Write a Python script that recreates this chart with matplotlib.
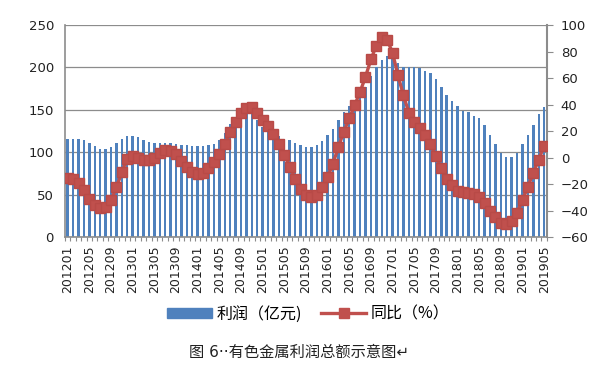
import matplotlib
matplotlib.use('Agg')
import matplotlib.pyplot as plt
import numpy as np
from matplotlib.patches import Patch
from matplotlib.lines import Line2D

# months 201201 .. 201905
months = []
for y in range(2012, 2020):
    for m in range(1, 13):
        if y == 2019 and m > 5:
            break
        months.append('%d%02d' % (y, m))

# profit, 100 million yuan (left axis)
profit = [116, 116, 116, 114, 111, 107, 104, 104, 106, 111, 116,
          119, 119, 118, 115, 112, 111, 111, 111, 111, 110,
          109, 108, 107, 107, 107, 108, 110, 115, 123, 133,
          138, 142, 147, 146, 138, 130, 126, 122, 119, 116,
          114, 111, 108, 106, 106, 109, 113, 120, 128, 138,
          148, 155, 161, 168, 177, 190, 200, 209, 213, 211,
          205, 200, 200, 200, 199, 196, 193, 186, 177, 167,
          160, 154, 149, 147, 143, 140, 132, 120, 110, 99,
          94, 94, 99, 110, 120, 132, 145, 153]

# year-on-year change, % (right axis)
yoy = [-15.5, -16.5, -19.5, -24.5, -31, -36, -38, -37.5, -32, -22.5,
       -11, -1, 1.5, 0, -2, -2, 0, 3.5, 5.8, 5,
       2.5, -2.5, -7, -11, -12.4, -11.5, -8, -3, 2.8, 10,
       19, 27, 34, 37.5, 38, 33.5, 28, 23.5, 18, 10,
       2.3, -6.8, -16, -24, -28, -29.5, -28, -22.5, -15, -4.5,
       8, 19.5, 29.5, 39.5, 49.5, 61, 74, 84.5, 91, 89,
       79, 62, 47, 34, 27, 22, 17, 10, 1, -8,
       -16, -21, -25, -26, -26.7, -27.5, -29.5, -34, -40, -45,
       -49.5, -50, -48, -41.5, -32, -22, -11.5, -1.5, 9]

label_every = 4
bar_color = '#4F81BD'
line_color = '#C0504D'
grid_color = '#8C8C8C'
cjk = ['Noto Sans CJK SC', 'DejaVu Sans']

fig = plt.figure(figsize=(5.99, 3.71), dpi=100)
ax = fig.add_axes([0.1085, 0.361, 0.8045, 0.5715])
x = np.arange(len(months))

ax.bar(x, profit, width=0.45, color=bar_color, zorder=2)
ax.set_xlim(-0.5, len(months) - 0.5)
ax.set_ylim(0, 250)
ax.set_yticks(np.arange(0, 251, 50))
ax.grid(axis='y', color=grid_color, linewidth=0.9, zorder=0)
ax.set_axisbelow(True)
ax.tick_params(axis='y', length=0, labelsize=9.5, pad=8, labelcolor='#222222')

ax.set_xticks(x[::label_every])
ax.set_xticklabels(months[::label_every], rotation=90, fontsize=9, color='#222222')
ax.set_xticks(np.arange(-0.5, len(months), 1), minor=True)
ax.tick_params(axis='x', which='major', length=0, pad=6)
ax.tick_params(axis='x', which='minor', length=3, color=grid_color, width=0.8)

for s in ['top', 'right']:
    ax.spines[s].set_visible(False)
ax.spines['left'].set_color(grid_color)
ax.spines['bottom'].set_color(grid_color)
ax.spines['left'].set_linewidth(1.2)
ax.spines['bottom'].set_linewidth(1.2)

ax2 = ax.twinx()
ax2.plot(x, yoy, color=line_color, linewidth=2.4, marker='s', markersize=7.8,
         markerfacecolor=line_color, markeredgecolor='#B84A47', zorder=3)
ax2.set_ylim(-60, 100)
ax2.set_yticks(np.arange(-60, 101, 20))
ax2.tick_params(axis='y', length=4, color=grid_color, labelsize=9.5, pad=6, labelcolor='#222222')
for s in ['top', 'left', 'bottom']:
    ax2.spines[s].set_visible(False)
ax2.spines['right'].set_color(grid_color)
ax2.spines['right'].set_linewidth(1.5)

handles = [Patch(facecolor=bar_color, edgecolor=bar_color),
           Line2D([0], [0], color=line_color, linewidth=2.4, marker='s', markersize=7.8)]
fig.legend(handles, ['利润（亿元)', '同比（%）'], loc='center', bbox_to_anchor=(0.515, 0.153),
           ncol=2, frameon=False, prop={'family': cjk, 'size': 11.5}, handlelength=2.8,
           handleheight=0.6, columnspacing=1.2, handletextpad=0.3)

fig.text(0.5, 0.05, '图 6··有色金属利润总额示意图↵', ha='center', va='center',
         fontsize=11, family=['DejaVu Sans', 'Noto Sans CJK SC'], color='#222222')

fig.savefig('out.png', dpi=100)
